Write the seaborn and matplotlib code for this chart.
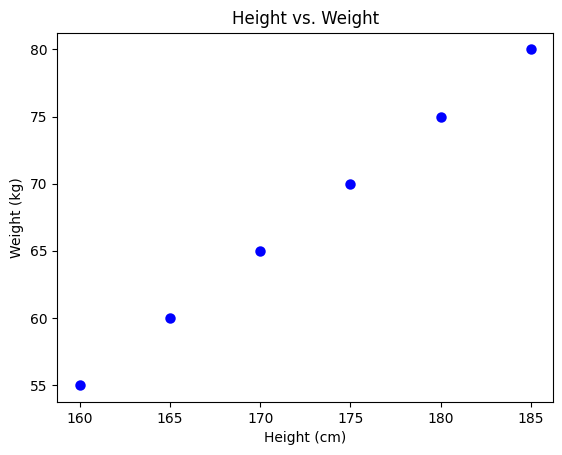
import pandas as pd
import seaborn as sns
import matplotlib.pyplot as plt

# data
heights = [160, 165, 170, 175, 180, 185]
weights = [55, 60, 65, 70, 75, 80]

df = pd.DataFrame({'Height (cm)': heights, 'Weight (kg)': weights})

fig = plt.figure(figsize=(5.62, 4.55), dpi=100)
ax = fig.add_axes([57.3 / 562, 1 - 402.2 / 455, 496 / 562, 369.6 / 455])

# plt.scatter look: face-coloured edge 1.5 wide
sns.scatterplot(x='Height (cm)', y='Weight (kg)', data=df, ax=ax,
                color='blue', s=36, edgecolor='blue', linewidth=1.5)

ax.set_title('Height vs. Weight')
ax.set_xlabel('Height (cm)')
ax.set_ylabel('Weight (kg)')

fig.savefig('out.png', dpi=100)
